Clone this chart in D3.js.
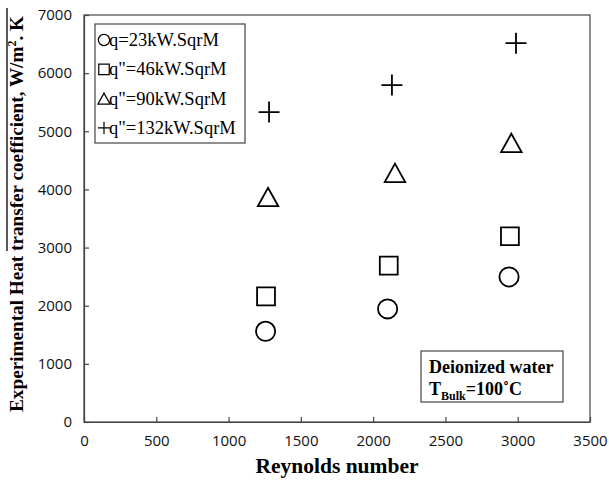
<!DOCTYPE html>
<html>
<head>
<meta charset="utf-8">
<script src="https://cdn.jsdelivr.net/npm/d3@7"></script>
<style>
  html, body { margin: 0; padding: 0; background: #fff; }
  svg { display: block; }
</style>
</head>
<body>
<svg id="chart" width="609" height="483"></svg>
<script>
// Reynolds number at each measured point
const reynolds = [
  [1256, 2100, 2940],
  [1259, 2108, 2946],
  [1273, 2151, 2956],
  [1280, 2130, 2988]
];
// Heat transfer coefficient, W/m².K
const htc = [
  [1560, 1945, 2495],
  [2160, 2690, 3195],
  [3870, 4285, 4800],
  [5330, 5795, 6515]
];
const seriesLabels = ["q=23kW.SqrM", "q\"=46kW.SqrM", "q\"=90kW.SqrM", "q\"=132kW.SqrM"];
const seriesShapes = ["circle", "square", "triangle", "plus"];
const xTicks = [0, 500, 1000, 1500, 2000, 2500, 3000, 3500];
const yTicks = [0, 1000, 2000, 3000, 4000, 5000, 6000, 7000];

const svg = d3.select("#chart");
const plotLeft = 84, plotRight = 590, plotTop = 15, plotBottom = 422;
const x = d3.scaleLinear().domain([0, 3500]).range([plotLeft, plotRight]);
const y = d3.scaleLinear().domain([0, 7000]).range([plotBottom, plotTop]);
const axisColor = "#444";

// plot frame
svg.append("rect")
  .attr("x", plotLeft).attr("y", plotTop)
  .attr("width", plotRight - plotLeft).attr("height", plotBottom - plotTop)
  .attr("fill", "none").attr("stroke", axisColor).attr("stroke-width", 1.2);

const xAxis = svg.append("g")
  .attr("transform", `translate(0,${plotBottom})`)
  .call(d3.axisBottom(x).tickValues(xTicks).tickFormat(d3.format("d"))
    .tickSizeInner(-5).tickSizeOuter(0).tickPadding(13));
const yAxis = svg.append("g")
  .attr("transform", `translate(${plotLeft},0)`)
  .call(d3.axisLeft(y).tickValues(yTicks).tickFormat(d3.format("d"))
    .tickSizeInner(-5).tickSizeOuter(0).tickPadding(12));
[xAxis, yAxis].forEach(g => {
  g.select(".domain").attr("stroke", axisColor).attr("stroke-width", 1.2);
  g.selectAll(".tick line").attr("stroke", axisColor).attr("stroke-width", 1.2);
  g.selectAll(".tick text")
    .attr("fill", "#111")
    .style("font-family", "'Open Sans', sans-serif")
    .style("font-size", "15px");
});

// marker shapes
const symbolTypes = {
  circle: d3.symbolCircle,
  square: d3.symbolSquare,
  triangle: {
    draw(ctx, size) {
      const w = Math.sqrt(size);
      const h = w * 0.9;
      ctx.moveTo(0, -h / 2);
      ctx.lineTo(w / 2, h / 2);
      ctx.lineTo(-w / 2, h / 2);
      ctx.closePath();
    }
  },
  plus: {
    draw(ctx, size) {
      const r = Math.sqrt(size) / 2;
      ctx.moveTo(-r, 0); ctx.lineTo(r, 0);
      ctx.moveTo(0, -r); ctx.lineTo(0, r);
    }
  }
};
const markerSize = { circle: 290, square: 320, triangle: 420, plus: 440 };

seriesShapes.forEach((shape, i) => {
  const pts = reynolds[i].map((re, j) => ({ re, h: htc[i][j] }));
  svg.append("g").selectAll("path")
    .data(pts)
    .join("path")
    .attr("transform", d => `translate(${x(d.re)},${y(d.h)})`)
    .attr("d", d3.symbol().type(symbolTypes[shape]).size(markerSize[shape]))
    .attr("fill", "none")
    .attr("stroke", "#000")
    .attr("stroke-width", 1.8);
});

// legend
const serif = "'Liberation Serif', 'Times New Roman', serif";
svg.append("rect")
  .attr("x", 95).attr("y", 24).attr("width", 150).attr("height", 119)
  .attr("fill", "#fff").attr("stroke", axisColor).attr("stroke-width", 1.2);
const legendSize = { circle: 100, square: 110, triangle: 150, plus: 150 };
seriesLabels.forEach((label, i) => {
  const cy = 40 + i * 29.3;
  svg.append("path")
    .attr("transform", `translate(104,${cy})`)
    .attr("d", d3.symbol().type(symbolTypes[seriesShapes[i]]).size(legendSize[seriesShapes[i]]))
    .attr("fill", "none").attr("stroke", "#000").attr("stroke-width", 1.2);
  svg.append("text")
    .attr("x", 109).attr("y", cy + 6)
    .style("font-family", serif).style("font-size", "18.5px")
    .attr("fill", "#000")
    .text(label);
});

// annotation box
svg.append("rect")
  .attr("x", 421).attr("y", 351).attr("width", 142).attr("height", 51)
  .attr("fill", "#fff").attr("stroke", axisColor).attr("stroke-width", 1.2);
svg.append("text")
  .attr("x", 429).attr("y", 373)
  .style("font-family", serif).style("font-size", "18px").style("font-weight", "bold")
  .text("Deionized water");
const t2 = svg.append("text")
  .attr("x", 429).attr("y", 395)
  .style("font-family", serif).style("font-size", "18px").style("font-weight", "bold");
t2.append("tspan").text("T");
t2.append("tspan").attr("dy", 5).style("font-size", "12px").text("Bulk");
t2.append("tspan").attr("dy", -5).text("=100˚C");

// axis titles
svg.append("text")
  .attr("x", (plotLeft + plotRight) / 2).attr("y", 473)
  .attr("text-anchor", "middle")
  .style("font-family", serif).style("font-size", "21.5px").style("font-weight", "bold")
  .text("Reynolds number");

const yTitleParts = ["Experimental Heat ", "transfer coefficient", ", W/m", "2", ". K"];
const yCenter = 214, yBase = 23;
const yTitle = svg.append("text")
  .attr("transform", `translate(${yBase},${yCenter}) rotate(-90)`)
  .attr("text-anchor", "middle")
  .style("font-family", serif).style("font-size", "19.2px").style("font-weight", "bold");
yTitle.append("tspan").text(yTitleParts[0]);
yTitle.append("tspan").text(yTitleParts[1]);
yTitle.append("tspan").text(yTitleParts[2]);
yTitle.append("tspan").attr("dy", -7).style("font-size", "12px").text(yTitleParts[3]);
yTitle.append("tspan").attr("dy", 7).text(yTitleParts[4]);

// overbar from "transfer" to the end of the title (averaged coefficient)
const node = yTitle.node();
const total = node.getComputedTextLength();
const startOffset = node.getSubStringLength(0, yTitleParts[0].length);
const x0 = -total / 2 + startOffset;
svg.append("line")
  .attr("transform", `translate(${yBase},${yCenter}) rotate(-90)`)
  .attr("x1", x0).attr("x2", total / 2 + 8)
  .attr("y1", -16).attr("y2", -16)
  .attr("stroke", "#000").attr("stroke-width", 1.3);
</script>
</body>
</html>
